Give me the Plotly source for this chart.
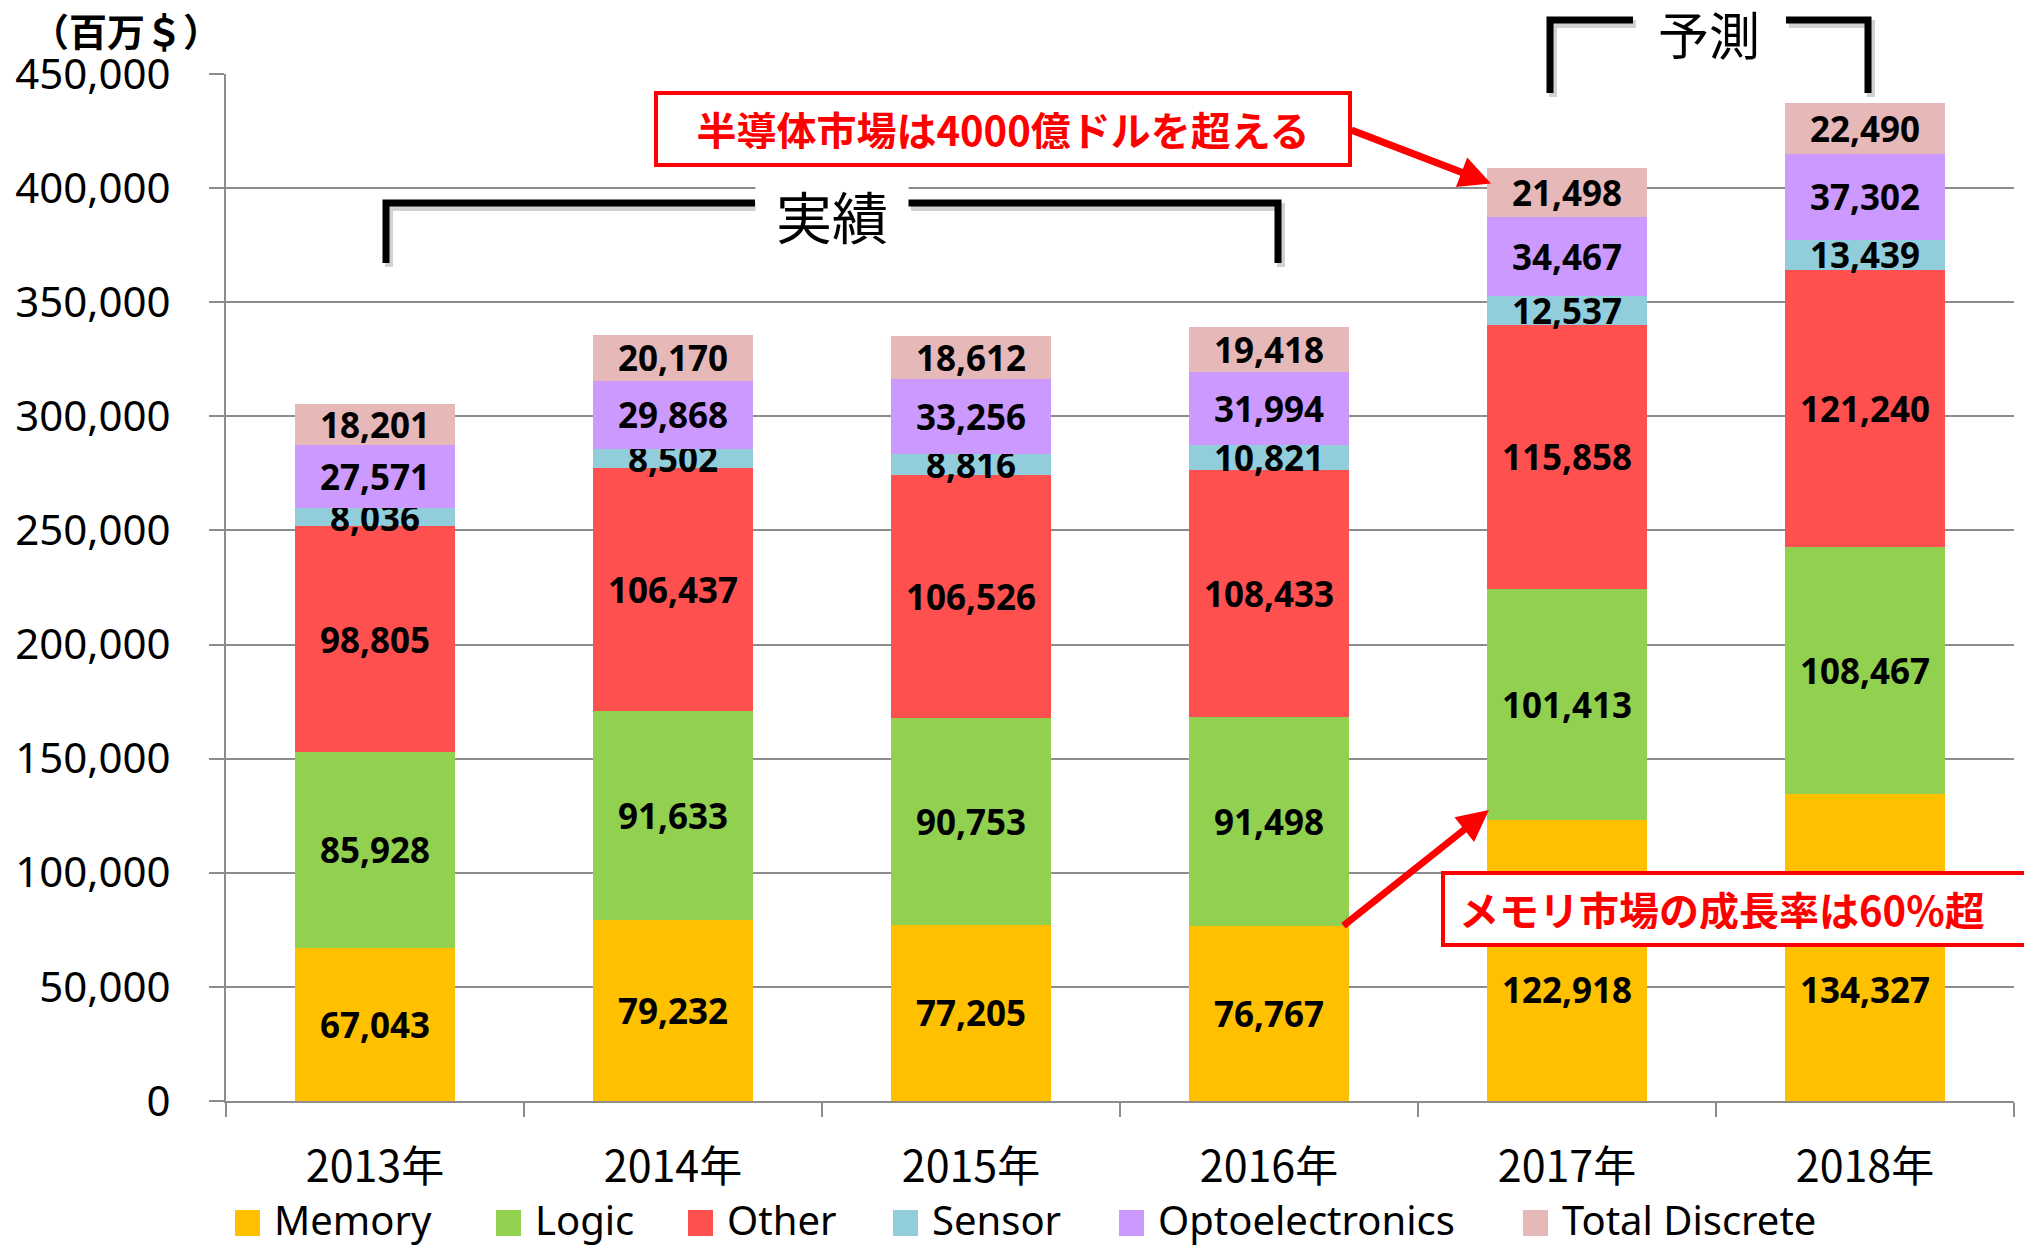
import plotly.graph_objects as go

# ---------------- data ----------------
years = ["2013年", "2014年", "2015年", "2016年", "2017年", "2018年"]
series_names = ["Memory", "Logic", "Other", "Sensor", "Optoelectronics", "Total Discrete"]
memory = [67043, 79232, 77205, 76767, 122918, 134327]
logic = [85928, 91633, 90753, 91498, 101413, 108467]
other = [98805, 106437, 106526, 108433, 115858, 121240]
sensor = [8036, 8502, 8816, 10821, 12537, 13439]
opto = [27571, 29868, 33256, 31994, 34467, 37302]
discrete = [18201, 20170, 18612, 19418, 21498, 22490]
y_ticks = [0, 50000, 100000, 150000, 200000, 250000, 300000, 350000, 400000, 450000]

unit_label = "（百万＄）"
actual_label = "実績"
forecast_label = "予測"
callout_total = "半導体市場は4000億ドルを超える"
callout_memory = "メモリ市場の成長率は60%超"

# ---------------- style ----------------
colors = ["#FFC000", "#92D050", "#FF5050", "#92CDDC", "#CC99FF", "#E6B8B7"]
W, H = 2024, 1247
L, R, T, B = 226, 10, 74, 146
GRID = "#8C8C8C"
LAT = "Noto Sans, Noto Sans CJK JP, sans-serif"
CJK = "Noto Sans CJK JP, Noto Sans, sans-serif"


def px(x):
    return (x - L) / (W - L - R)


def py(y):
    return (H - B - y) / (H - T - B)


fig = go.Figure()
all_series = [memory, logic, other, sensor, opto, discrete]
for i, (name, vals) in enumerate(zip(series_names, all_series)):
    fig.add_trace(go.Bar(
        x=years, y=vals, name=name,
        marker=dict(color=colors[i], line=dict(width=0)),
        text=None if i == 0 else [f"{v:,}" for v in vals],
        textposition="inside", insidetextanchor="middle", textangle=0,
        constraintext="none", cliponaxis=False,
        textfont=dict(family=LAT, size=35, color="black", weight="bold"),
        showlegend=False,
    ))

annotations = []
# memory labels (last two nudged down below the callout, as in the original)
mem_shift = [0, 0, 0, 0, -29, -42]
for i, v in enumerate(memory):
    annotations.append(dict(
        x=i, y=v / 2, xref="x", yref="y", text=f"{v:,}", showarrow=False,
        yshift=mem_shift[i], xanchor="center", yanchor="middle",
        font=dict(family=LAT, size=35, color="black", weight="bold"),
    ))


def note(x, y, text, **kw):
    d = dict(x=px(x), y=py(y), xref="paper", yref="paper", text=text,
             showarrow=False, xanchor="center", yanchor="middle")
    d.update(kw)
    annotations.append(d)


# unit label
note(126, 29, f"<b>{unit_label}</b>", font=dict(family=CJK, size=38, color="black"))

# bracket labels
note(832, 214, actual_label, bgcolor="white", width=150,
     font=dict(family=CJK, size=56, color="black"))
note(1709, 33, forecast_label, font=dict(family=CJK, size=51, color="black"))

# callout boxes
note(1003, 129, f"<b>{callout_total}</b>", bgcolor="white", bordercolor="#FF0000",
     borderwidth=4, borderpad=14, width=662, height=40,
     font=dict(family=CJK, size=40, color="#FF0000"))
note(1441, 909, f"<b>{callout_memory}</b>", xanchor="left", align="left",
     bgcolor="white", bordercolor="#FF0000", borderwidth=4, borderpad=14,
     width=600, height=40, font=dict(family=CJK, size=40, color="#FF0000"))

# arrows
annotations.append(dict(x=3.745, y=402000, xref="x", yref="y", text="",
                        showarrow=True, ax=-141, ay=-54, arrowcolor="#FF0000",
                        arrowwidth=7, arrowhead=2, arrowsize=0.9, standoff=0))
annotations.append(dict(x=3.738, y=127500, xref="x", yref="y", text="",
                        showarrow=True, ax=-147, ay=117, arrowcolor="#FF0000",
                        arrowwidth=7, arrowhead=2, arrowsize=0.9, standoff=0))

# manual legend
leg_swatch_x = [235, 496, 688, 893, 1119, 1523]
shapes = []
for i, name in enumerate(series_names):
    x0 = leg_swatch_x[i]
    shapes.append(dict(type="rect", xref="paper", yref="paper",
                       x0=px(x0), x1=px(x0 + 25), y0=py(1236), y1=py(1210),
                       fillcolor=colors[i], line=dict(width=0)))
    note(x0 + 37, 1219, name, xanchor="left",
         font=dict(family=LAT, size=40, color="black"))


def path(points):
    return "M " + " L ".join(f"{px(a)},{py(b)}" for a, b in points)


bracket_parts = [
    [(386, 263), (386, 203), (755, 203)],
    [(908, 203), (1278, 203), (1278, 263)],
    [(1550, 93), (1550, 20), (1633, 20)],
    [(1786, 20), (1868, 20), (1868, 93)],
]
for pts in bracket_parts:
    shadow = [(a + 3, b + 4) for a, b in pts]
    shapes.append(dict(type="path", xref="paper", yref="paper", path=path(shadow),
                       line=dict(color="rgba(0,0,0,0.18)", width=8)))
for pts in bracket_parts:
    shapes.append(dict(type="path", xref="paper", yref="paper", path=path(pts),
                       line=dict(color="black", width=7)))

fig.update_layout(
    width=W, height=H, barmode="stack", bargap=0.46,
    margin=dict(l=L, r=R, t=T, b=B),
    plot_bgcolor="white", paper_bgcolor="white",
    showlegend=False,
    annotations=annotations, shapes=shapes,
    xaxis=dict(type="category", tickson="boundaries", ticks="outside", ticklen=14,
               tickwidth=2, tickcolor=GRID, showline=True, linecolor=GRID, linewidth=2,
               showgrid=False, ticklabelstandoff=27,
               tickfont=dict(family=CJK, size=43, color="black")),
    yaxis=dict(range=[0, 450000], tickvals=y_ticks, tickformat=",", showgrid=True,
               gridcolor=GRID, gridwidth=2, showline=True, linecolor=GRID, linewidth=2,
               ticks="outside", ticklen=15, tickwidth=2, tickcolor=GRID,
               ticklabelstandoff=30, zeroline=False,
               tickfont=dict(family=LAT, size=42, color="black")),
)

fig.write_html("out.html", config={"displayModeBar": False},
               post_script="document.body.style.margin='0';")
